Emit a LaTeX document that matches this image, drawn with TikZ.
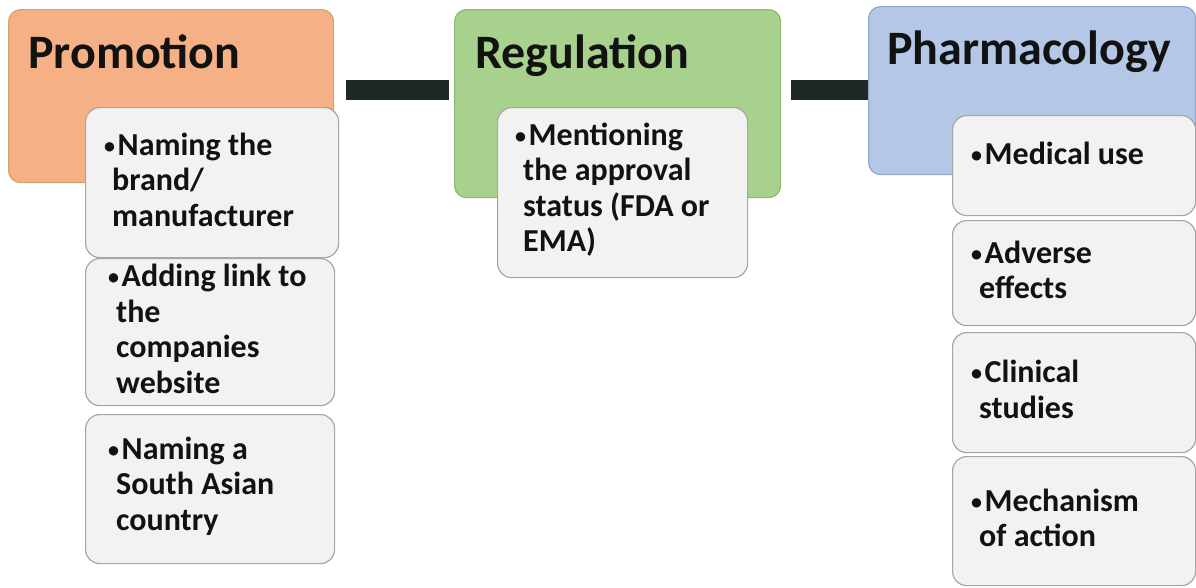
\documentclass[tikz,border=0pt]{standalone}
\usepackage{fontspec}
\setmainfont{Carlito}
\definecolor{orfill}{HTML}{F5B185}
\definecolor{orline}{HTML}{CFA46E}
\definecolor{grfill}{HTML}{A9D18E}
\definecolor{grline}{HTML}{8CB874}
\definecolor{blfill}{HTML}{B4C7E7}
\definecolor{blline}{HTML}{8EA6C9}
\definecolor{subfill}{HTML}{F2F2F2}
\definecolor{subline}{HTML}{A6A6A6}
\definecolor{barcol}{HTML}{1F2923}
\definecolor{txt}{HTML}{121212}
\newcommand{\itembul}{\hspace*{-8pt}\makebox[13.5pt][l]{\raisebox{2pt}{\fontsize{22}{22}\selectfont\textbullet}}}
\begin{document}
\begin{tikzpicture}[x=1pt,y=-1pt,
  hdr/.style={rounded corners=12pt, line width=1.2pt, anchor=north west, inner sep=0pt},
  sub/.style={draw=subline, fill=subfill, rounded corners=14pt, line width=1.2pt, anchor=north west, inner sep=0pt},
  htext/.style={font=\fontsize{48}{56}\selectfont\bfseries, anchor=base west, inner sep=0pt, text=txt},
  stext/.style={font=\fontsize{32}{35.5}\selectfont\bfseries, anchor=west, align=left, inner sep=0pt, text=txt, yshift=3pt},
  bar/.style={draw=barcol, line width=20pt}]
\useasboundingbox (0,0) rectangle (1196,587);

% header boxes
\node[hdr, draw=orline, fill=orfill, minimum width=325pt, minimum height=173pt] (prom) at (8,9) {};
\node[hdr, draw=grline, fill=grfill, minimum width=326pt, minimum height=188pt] (reg) at (454,9) {};
\node[hdr, draw=blline, fill=blfill, minimum width=327pt, minimum height=168pt] (pharm) at (868,6) {};

% connectors
\coordinate (bary) at (0,90);
\draw[bar, shorten <=12pt, shorten >=5pt] (prom.east |- bary) -- (reg.west |- bary);
\draw[bar, shorten <=10pt] (reg.east |- bary) -- (pharm.west |- bary);

% header texts
\node[htext] (promt) at (28,68) {Promotion};
\node[htext] (regt) at (475,68) {Regulation};
\node[htext] (pharmt) at (887,64) {Pharmacology};

% promotion items
\node[sub, minimum width=253pt, minimum height=150pt] (ps1) at (85,107) {};
\node[sub, minimum width=249pt, minimum height=147pt] (ps2) at (85,258) {};
\node[sub, minimum width=249pt, minimum height=149pt] (ps3) at (85,414) {};
\node[stext] (ps1t) at ([xshift=27pt]ps1.west) {\itembul Naming the\\brand/\\manufacturer};
\node[stext] (ps2t) at ([xshift=31pt]ps2.west) {\itembul Adding link to\\the\\companies\\website};
\node[stext] (ps3t) at ([xshift=31pt]ps3.west) {\itembul Naming a\\South Asian\\country};

% regulation item
\node[sub, minimum width=250pt, minimum height=170pt] (rs1) at (497,107) {};
\node[stext] (rs1t) at ([xshift=26pt]rs1.west) {\itembul Mentioning\\the approval\\status (FDA or\\EMA)};

% pharmacology items
\node[sub, minimum width=243pt, minimum height=100pt] (ph1) at (952,115) {};
\node[sub, minimum width=243pt, minimum height=105pt] (ph2) at (952,220) {};
\node[sub, minimum width=243pt, minimum height=120pt] (ph3) at (952,332) {};
\node[sub, minimum width=243pt, minimum height=129pt] (ph4) at (952,456) {};
\node[stext] (ph1t) at ([xshift=27pt,yshift=9pt]ph1.west) {\itembul Medical use};
\node[stext] (ph2t) at ([xshift=27pt]ph2.west) {\itembul Adverse\\effects};
\node[stext] (ph3t) at ([xshift=27pt]ph3.west) {\itembul Clinical\\studies};
\node[stext] (ph4t) at ([xshift=27pt]ph4.west) {\itembul Mechanism\\of action};
\end{tikzpicture}
\end{document}
